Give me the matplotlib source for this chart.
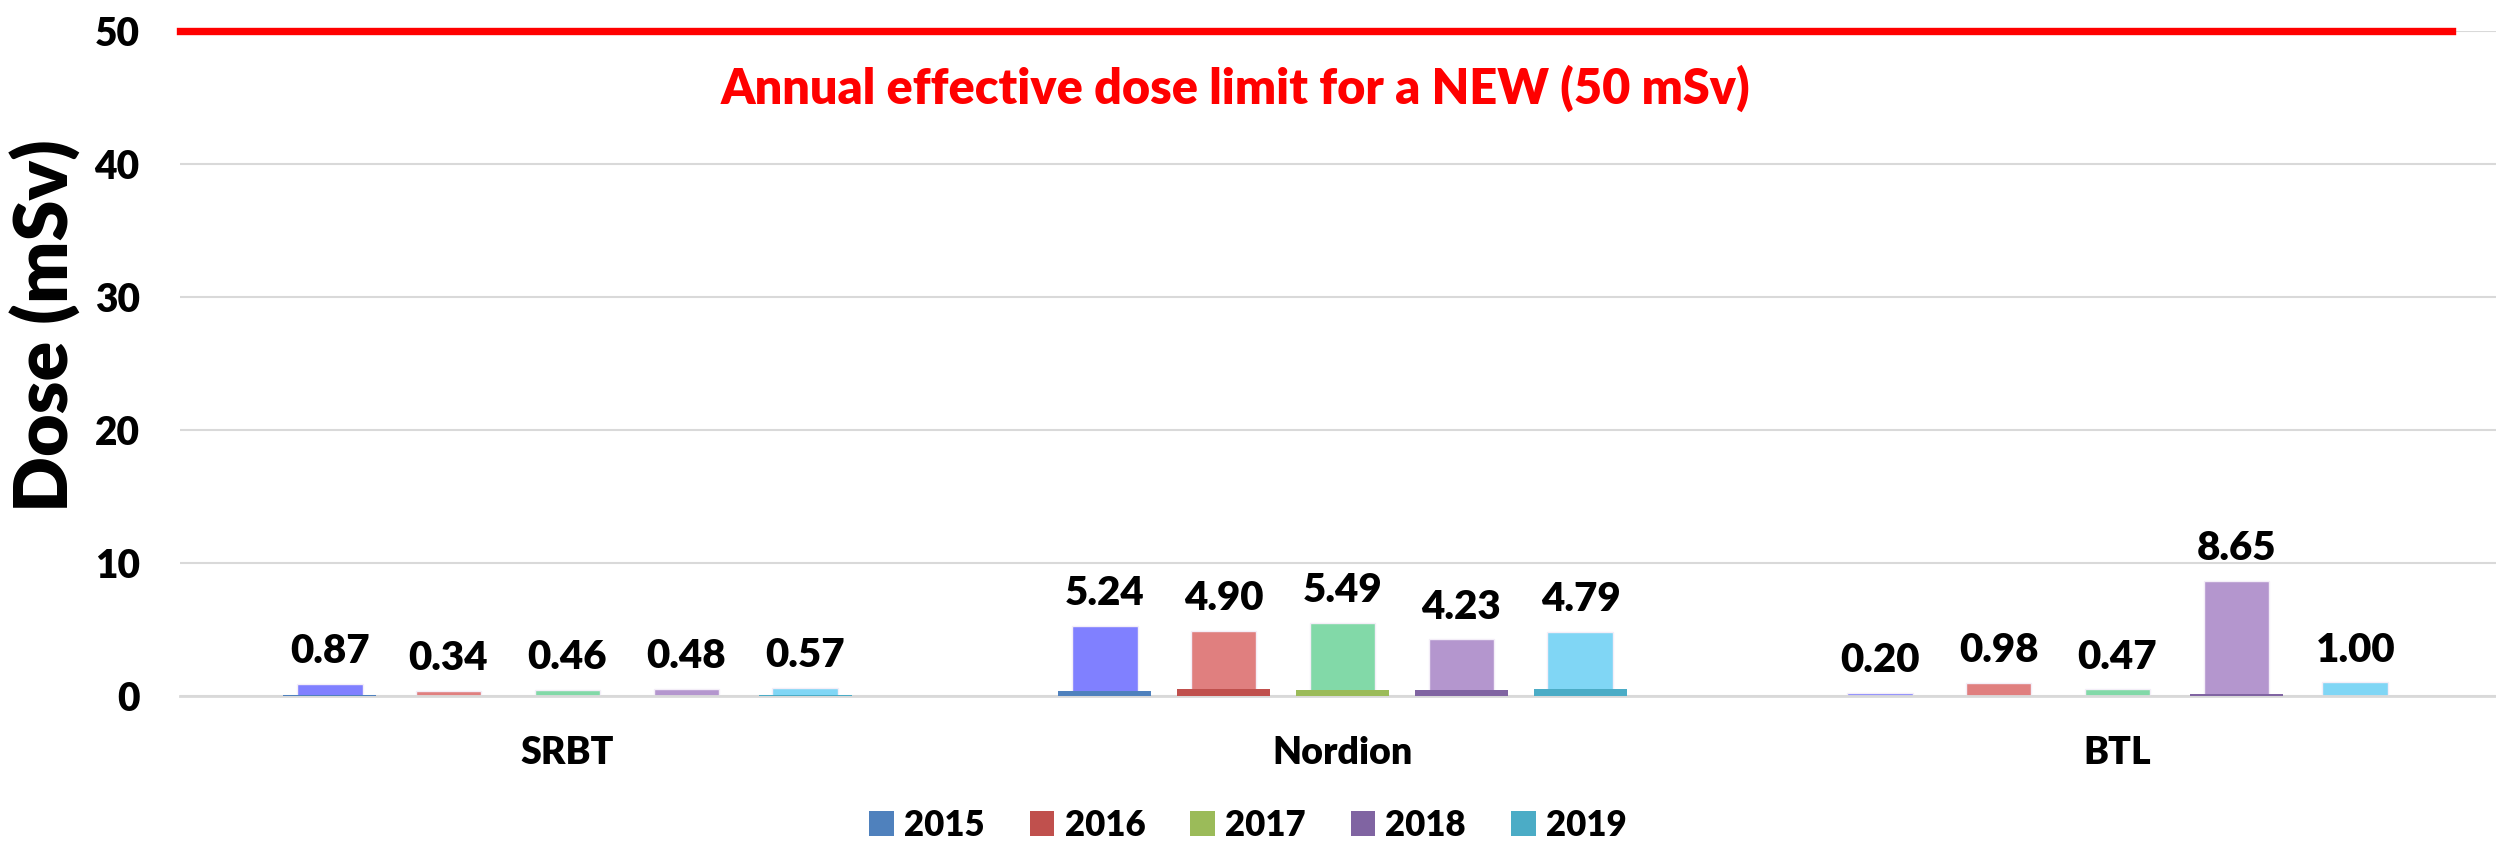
import numpy as np
import matplotlib
matplotlib.use("Agg")
import matplotlib.pyplot as plt
from matplotlib.patches import Patch

plt.rcParams["font.family"] = ["Lato", "DejaVu Sans"]
plt.rcParams["font.weight"] = "bold"

sites = ["SRBT", "Nordion", "BTL"]
years = ["2015", "2016", "2017", "2018", "2019"]

# labelled doses (mSv), one list per year: SRBT, Nordion, BTL
dose_2015 = [0.87, 5.24, 0.20]
dose_2016 = [0.34, 4.90, 0.98]
dose_2017 = [0.46, 5.49, 0.47]
dose_2018 = [0.48, 4.23, 8.65]
dose_2019 = [0.57, 4.79, 1.00]

# thin background series drawn in the legend colours
base_2015 = [0.03, 0.35, 0.0]
base_2016 = [0.0, 0.50, 0.0]
base_2017 = [0.0, 0.40, 0.0]
base_2018 = [0.0, 0.45, 0.15]
base_2019 = [0.03, 0.50, 0.0]

dose_limit = 50
limit_text = "Annual effective dose limit for a NEW (50 mSv)"

light_colors = ["#8080FF", "#E07F7F", "#82D9A8", "#B496CE", "#80D6F5"]
dark_colors = ["#4F81BD", "#C0504D", "#9BBB59", "#8064A2", "#4BACC6"]

HEAVY = 800


def main():
    doses = [dose_2015, dose_2016, dose_2017, dose_2018, dose_2019]
    bases = [base_2015, base_2016, base_2017, base_2018, base_2019]

    fig = plt.figure(figsize=(24.96, 8.44), dpi=100)
    ax = fig.add_axes([180 / 2496, 1 - 695.7 / 844, 2325 / 2496, 665 / 844])

    x = np.arange(len(sites))
    step = 0.1535

    for i, year in enumerate(years):
        pos = x + (i - 2) * step
        ax.bar(pos, doses[i], width=0.085, color=light_colors[i],
               edgecolor="#F4EEF8", linewidth=1, zorder=2)
        ax.bar(pos, bases[i], width=0.12, color=dark_colors[i],
               linewidth=0, zorder=3)
        for xp, v in zip(pos, doses[i]):
            ax.annotate(f"{v:.2f}", (xp, v), xytext=(0, 15),
                        textcoords="offset points", ha="center",
                        va="baseline", fontsize=29, fontweight=HEAVY,
                        color="black")

    ax.set_xlim(-0.5, 2.5)
    ax.set_ylim(0, 50)
    ax.set_yticks([0, 10, 20, 30, 40, 50])
    ax.set_xticks(x)
    ax.set_xticklabels(sites)
    ax.tick_params(axis="y", length=0, pad=29, labelsize=28)
    ax.tick_params(axis="x", length=0, pad=29, labelsize=27)
    for lab in ax.get_xticklabels() + ax.get_yticklabels():
        lab.set_fontweight(HEAVY)

    ax.grid(axis="y", color="#D9D9D9", linewidth=1.5, zorder=0)
    ax.set_axisbelow(True)
    for side in ["top", "right", "left"]:
        ax.spines[side].set_visible(False)
    ax.spines["bottom"].set_color("#D9D9D9")
    ax.spines["bottom"].set_linewidth(2)

    ax.axhline(dose_limit, xmin=0, xmax=0.977, color="#FF0000",
               linewidth=5.3, clip_on=False, zorder=4)
    fig.text(1235 / 2496, 1 - 88 / 844, limit_text, color="#FF0000",
             fontsize=35, fontweight=HEAVY, ha="center", va="center")

    fig.text(46 / 2496, 1 - 326 / 844, "Dose (mSv)", rotation=90,
             fontsize=53, fontweight=HEAVY, ha="center", va="center")

    handles = [Patch(facecolor=c, edgecolor="none") for c in dark_colors]
    leg = fig.legend(handles, years, loc="center", ncol=5,
                     bbox_to_anchor=(0.5, 1 - 825 / 844), frameon=False,
                     fontsize=25, handlelength=0.7, handleheight=0.7,
                     handletextpad=0.3, columnspacing=1.3)
    for t in leg.get_texts():
        t.set_fontweight(HEAVY)

    fig.savefig("out.png", dpi=100)


if __name__ == "__main__":
    main()
